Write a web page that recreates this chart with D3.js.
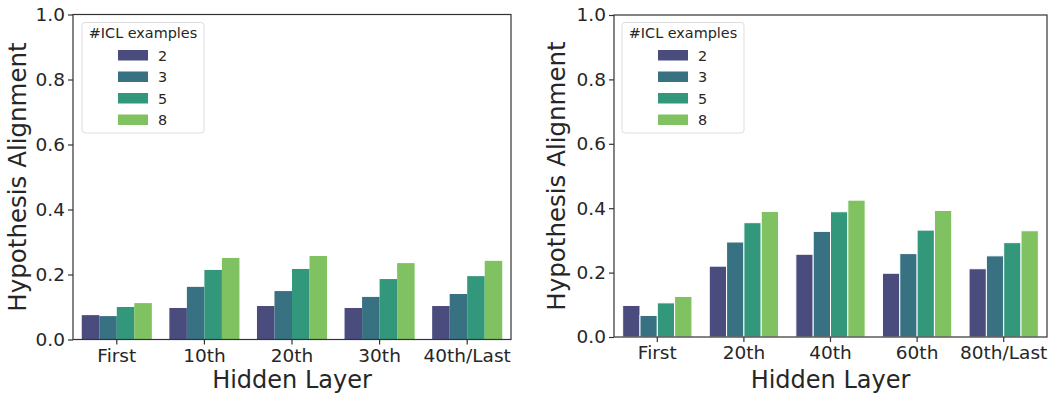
<!DOCTYPE html>
<html>
<head>
<meta charset="utf-8">
<script src="https://cdn.jsdelivr.net/npm/d3@7"></script>
<style>
  body { margin: 0; background: #fff; }
  svg text { font-family: "DejaVu Sans", sans-serif; fill: #262626; }
</style>
</head>
<body>
<div id="chart"></div>
<script>
// data
const seriesNames = ['2', '3', '5', '8'];
const seriesColors = ['#4a4c7e', '#377182', '#33977c', '#80c161'];
const yTicks = [0, 0.2, 0.4, 0.6, 0.8, 1.0];

const leftLayers = ['First', '10th', '20th', '30th', '40th/Last'];
const left2 = [0.075, 0.097, 0.103, 0.097, 0.103];
const left3 = [0.072, 0.162, 0.149, 0.131, 0.140];
const left5 = [0.100, 0.214, 0.217, 0.186, 0.195];
const left8 = [0.112, 0.251, 0.257, 0.235, 0.242];

const rightLayers = ['First', '20th', '40th', '60th', '80th/Last'];
const right2 = [0.098, 0.220, 0.257, 0.198, 0.212];
const right3 = [0.067, 0.295, 0.328, 0.259, 0.252];
const right5 = [0.106, 0.355, 0.389, 0.332, 0.293];
const right8 = [0.126, 0.390, 0.425, 0.393, 0.330];

const svg = d3.select('#chart')
  .append('svg')
  .attr('width', 1055)
  .attr('height', 394);

function drawPanel(opts) {
  const { left, right, top, bottom, layers, series, edge, yTitleX, legendX } = opts;
  const g = svg.append('g');

  const x = d3.scaleBand().domain(layers).range([left, right]).paddingInner(0).paddingOuter(0);
  const y = d3.scaleLinear().domain([0, 1]).range([bottom, top]);
  const sub = d3.scaleBand().domain(seriesNames).range([0, x.bandwidth() * 0.8]);

  // bars
  series.forEach((vals, si) => {
    g.append('g')
      .selectAll('rect')
      .data(vals)
      .enter()
      .append('rect')
      .attr('x', (d, i) => x(layers[i]) + x.bandwidth() * 0.1 + sub(seriesNames[si]))
      .attr('y', d => y(d))
      .attr('width', sub.bandwidth())
      .attr('height', d => y(0) - y(d))
      .attr('fill', seriesColors[si])
      .attr('stroke', edge ? '#fff' : 'none')
      .attr('stroke-width', edge ? 1 : 0);
  });

  // frame
  g.append('rect')
    .attr('x', left).attr('y', top)
    .attr('width', right - left).attr('height', bottom - top)
    .attr('fill', 'none')
    .attr('stroke', '#333')
    .attr('stroke-width', 1.2);

  // y axis
  const ya = g.append('g')
    .attr('transform', `translate(${left},0)`)
    .call(d3.axisLeft(y).tickValues(yTicks).tickFormat(d3.format('.1f')).tickSize(5).tickPadding(3).tickSizeOuter(0));
  ya.select('.domain').remove();
  ya.selectAll('line').attr('stroke', '#333').attr('stroke-width', 1.2);
  ya.selectAll('text').attr('font-size', '18.5px').attr('fill', '#262626').attr('font-family', 'DejaVu Sans');

  // x axis
  const xa = g.append('g')
    .attr('transform', `translate(0,${bottom})`)
    .call(d3.axisBottom(x).tickSize(5).tickPadding(4).tickSizeOuter(0));
  xa.select('.domain').remove();
  xa.selectAll('line').attr('stroke', '#333').attr('stroke-width', 1.2);
  xa.selectAll('text').attr('font-size', '18.5px').attr('fill', '#262626').attr('font-family', 'DejaVu Sans');

  // titles
  g.append('text')
    .attr('x', (left + right) / 2)
    .attr('y', 388)
    .attr('text-anchor', 'middle')
    .attr('font-size', '24px')
    .text('Hidden Layer');

  g.append('text')
    .attr('transform', `translate(${yTitleX},${(top + bottom) / 2}) rotate(-90)`)
    .attr('text-anchor', 'middle')
    .attr('font-size', '24.5px')
    .text('Hypothesis Alignment');

  // legend
  const lg = g.append('g').attr('transform', `translate(${legendX},22.5)`);
  lg.append('rect')
    .attr('width', 122).attr('height', 110.5)
    .attr('rx', 3)
    .attr('fill', '#fff')
    .attr('fill-opacity', 0.8)
    .attr('stroke', '#ddd');
  lg.append('text')
    .attr('x', 61).attr('y', 15.5)
    .attr('text-anchor', 'middle')
    .attr('font-size', '14.4px')
    .text('#ICL examples');
  seriesNames.forEach((s, i) => {
    lg.append('rect')
      .attr('x', 36).attr('y', 27.5 + i * 21.5)
      .attr('width', 30).attr('height', 10.5)
      .attr('fill', seriesColors[i]);
    lg.append('text')
      .attr('x', 76).attr('y', 38.3 + i * 21.5)
      .attr('font-size', '14.4px')
      .text(s);
  });
}

drawPanel({
  left: 73, right: 511, top: 14.5, bottom: 339.5,
  layers: leftLayers,
  series: [left2, left3, left5, left8],
  edge: false, yTitleX: 26, legendX: 82
});

drawPanel({
  left: 614, right: 1047, top: 15, bottom: 337,
  layers: rightLayers,
  series: [right2, right3, right5, right8],
  edge: true, yTitleX: 565, legendX: 622
});
</script>
</body>
</html>
